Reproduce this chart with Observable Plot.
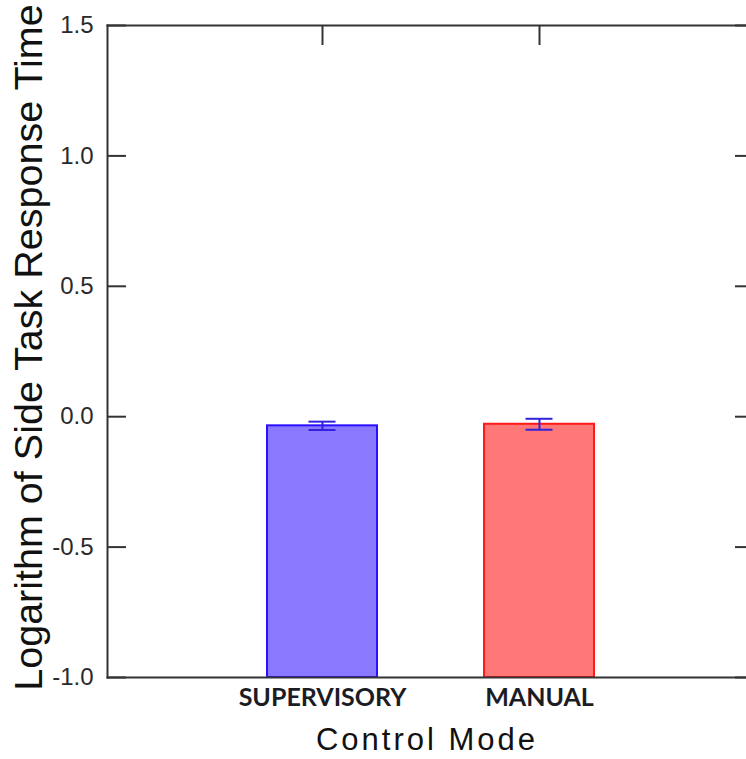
<!DOCTYPE html>
<html>
<head>
<meta charset="utf-8">
<script src="https://cdn.jsdelivr.net/npm/d3@7"></script>
<script src="https://cdn.jsdelivr.net/npm/@observablehq/plot@0.6"></script>
<style>
  html, body { margin: 0; padding: 0; background: white; overflow: hidden; }
  #chart svg { display: block; }
</style>
</head>
<body>
<div id="chart"></div>
<script>
// Data
const modes = ["SUPERVISORY", "MANUAL"];
const means = [-0.035, -0.029];
const errors = [0.016, 0.021];
const fills = ["#8a78ff", "#ff7777"];
const strokes = ["#2a10ff", "#ff1a1a"];
const yDomain = [-1.0, 1.5];
const yTicks = [-1.0, -0.5, 0.0, 0.5, 1.0, 1.5];
const xLabel = "Control Mode";
const yLabel = "Logarithm of Side Task Response Time";

const data = modes.map((m, i) => ({
  mode: m, mean: means[i], lo: means[i] - errors[i], hi: means[i] + errors[i],
  fill: fills[i], stroke: strokes[i]
}));

const W = 746, H = 759;
const mL = 107, mT = 25, mB = 82, mR = 0;
const frameW = W - mL - mR;
const frameH = H - mT - mB;
const axisColor = "#333";
const errColor = "#3322dd";

const chart = Plot.plot({
  width: W,
  height: H,
  marginLeft: mL,
  marginRight: mR,
  marginTop: mT,
  marginBottom: mB,
  style: { fontFamily: "'Liberation Sans', Arial, sans-serif", background: "white", overflow: "hidden" },
  x: { domain: modes, range: [mL, W + 8], paddingInner: 0.493, paddingOuter: 0.737 },
  y: { domain: yDomain, ticks: yTicks },
  marks: [
    Plot.barY(data, {
      x: "mode", y1: yDomain[0], y2: "mean",
      fill: d => d.fill, stroke: d => d.stroke, strokeWidth: 2
    }),
    Plot.ruleX(data, { x: "mode", y1: "lo", y2: "hi", stroke: errColor, strokeWidth: 2 }),
    Plot.tickY(data, { x: "mode", y: "lo", stroke: errColor, strokeWidth: 2, insetLeft: 41.5, insetRight: 41.5 }),
    Plot.tickY(data, { x: "mode", y: "hi", stroke: errColor, strokeWidth: 2, insetLeft: 41.5, insetRight: 41.5 }),
    // inward ticks on the left, right and top edges
    Plot.tickY(yTicks, { y: d => d, stroke: axisColor, strokeWidth: 2, insetRight: frameW - 19 }),
    Plot.tickY(yTicks, { y: d => d, stroke: axisColor, strokeWidth: 2, insetLeft: frameW - 11 }),
    Plot.tickX(modes, { x: d => d, stroke: axisColor, strokeWidth: 2, insetBottom: frameH - 20 }),
    Plot.frame({ anchor: "left", stroke: axisColor, strokeWidth: 2 }),
    Plot.frame({ anchor: "top", stroke: axisColor, strokeWidth: 2 }),
    Plot.frame({ anchor: "bottom", stroke: axisColor, strokeWidth: 2 }),
    Plot.axisY(yTicks, {
      anchor: "left", tickSize: 0, tickPadding: 14, label: null,
      tickFormat: d => d.toFixed(1), fontSize: 24, fill: "#2a2a2a"
    }),
    Plot.axisX({
      anchor: "bottom", tickSize: 0, tickPadding: 11, label: null,
      fontSize: 25, fontWeight: "bold", fontFamily: "Lato, 'Open Sans', sans-serif", fill: "#1c1c24"
    }),
    Plot.text([xLabel], {
      frameAnchor: "bottom", dy: 63, text: d => d, fontSize: 31,
      fill: "#111", lineAnchor: "middle"
    }),
    Plot.text([yLabel], {
      frameAnchor: "left", dx: -78, dy: -4, rotate: -90, text: d => d, fontSize: 39.5,
      fill: "#111", lineAnchor: "middle", textAnchor: "middle"
    })
  ]
});

// widen the letter spacing of the x-axis title as in the reference
d3.select(chart).selectAll("text").filter(function () { return this.textContent === xLabel; })
  .style("letter-spacing", "3px");

document.getElementById("chart").appendChild(chart);
</script>
</body>
</html>
